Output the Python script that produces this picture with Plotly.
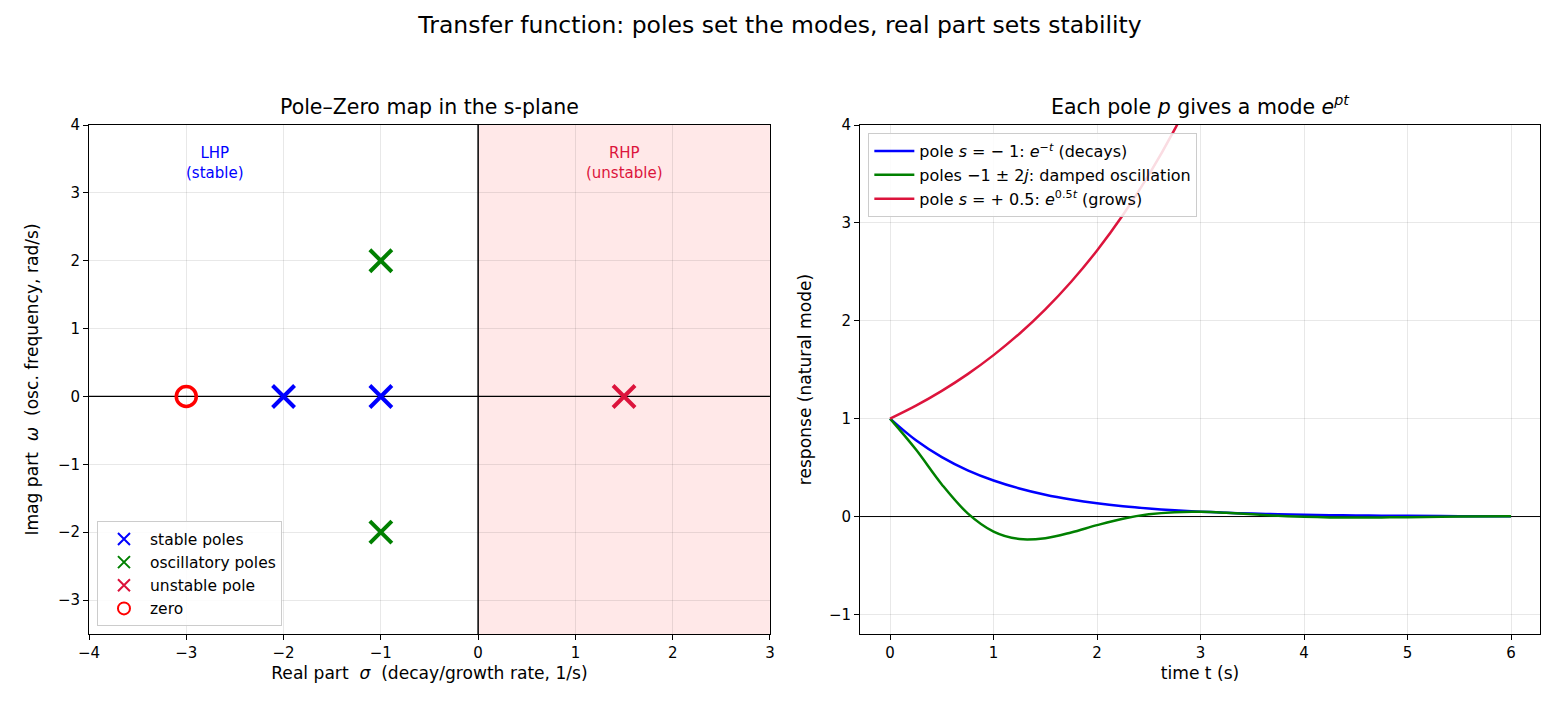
import plotly.graph_objects as go

# ---- data ----
stable_re = [-2, -1]
stable_im = [0, 0]
osc_re = [-1, -1]
osc_im = [2, -2]
unstable_re = [1.5]
unstable_im = [0]
zero_re = [-3]
zero_im = [0]

t_vals = [0, 0.25, 0.5, 0.75, 1, 1.25, 1.5, 1.75, 2, 2.25, 2.5, 2.75, 3,
          3.25, 3.5, 3.75, 4, 4.25, 4.5, 4.75, 5, 5.5, 6]
decay_vals = [1.0, 0.779, 0.607, 0.472, 0.368, 0.287, 0.223, 0.174, 0.135, 0.105,
              0.082, 0.064, 0.050, 0.039, 0.030, 0.024, 0.018, 0.014, 0.011, 0.009,
              0.007, 0.004, 0.002]
osc_vals = [1.0, 0.684, 0.328, 0.033, -0.153, -0.230, -0.221, -0.163, -0.088, -0.022,
            0.023, 0.045, 0.048, 0.038, 0.023, 0.008, -0.003, -0.009, -0.010, -0.009,
            -0.006, 0.000, 0.002]
t_grow = [0, 0.25, 0.5, 0.75, 1, 1.25, 1.5, 1.75, 2, 2.25, 2.5, 2.75, 3]
grow_vals = [1.0, 1.133, 1.284, 1.455, 1.649, 1.868, 2.117, 2.399, 2.718, 3.080,
             3.490, 3.955, 4.482]

FONT = "DejaVu Sans"
NB = "\u00a0"
fig = go.Figure()

# left panel
fig.add_trace(go.Scatter(x=stable_re, y=stable_im, mode="markers", name="stable poles",
                         marker=dict(symbol="x-thin-open", size=22, color="blue",
                                     line=dict(width=4, color="blue")),
                         xaxis="x", yaxis="y", legend="legend"))
fig.add_trace(go.Scatter(x=osc_re, y=osc_im, mode="markers", name="oscillatory poles",
                         marker=dict(symbol="x-thin-open", size=22, color="green",
                                     line=dict(width=4, color="green")),
                         xaxis="x", yaxis="y", legend="legend"))
fig.add_trace(go.Scatter(x=unstable_re, y=unstable_im, mode="markers", name="unstable pole",
                         marker=dict(symbol="x-thin-open", size=22, color="crimson",
                                     line=dict(width=4, color="crimson")),
                         xaxis="x", yaxis="y", legend="legend"))
fig.add_trace(go.Scatter(x=zero_re, y=zero_im, mode="markers", name="zero",
                         marker=dict(symbol="circle-open", size=20, color="red",
                                     line=dict(width=3.5, color="red")),
                         xaxis="x", yaxis="y", legend="legend"))

# right panel
fig.add_trace(go.Scatter(x=t_vals, y=decay_vals, mode="lines", line_shape="spline",
                         name="pole <i>s</i> = − 1: <i>e</i><sup>−<i>t</i></sup> (decays)",
                         line=dict(color="blue", width=2.5),
                         xaxis="x2", yaxis="y2", legend="legend2"))
fig.add_trace(go.Scatter(x=t_vals, y=osc_vals, mode="lines", line_shape="spline",
                         name="poles −1 ± 2<i>j</i>: damped oscillation",
                         line=dict(color="green", width=2.5),
                         xaxis="x2", yaxis="y2", legend="legend2"))
fig.add_trace(go.Scatter(x=t_grow, y=grow_vals, mode="lines", line_shape="spline",
                         name="pole <i>s</i> = + 0.5: <i>e</i><sup>0.5<i>t</i></sup> (grows)",
                         line=dict(color="crimson", width=2.5),
                         xaxis="x2", yaxis="y2", legend="legend2"))

axis_common = dict(showline=True, linecolor="black", linewidth=1, mirror=True,
                   ticks="outside", ticklen=5, tickcolor="black",
                   showgrid=True, gridcolor="rgba(0,0,0,0.09)", gridwidth=1,
                   zeroline=False, tickfont=dict(size=15, color="black"))

fig.update_layout(
    width=1560, height=715,
    paper_bgcolor="white", plot_bgcolor="white",
    font=dict(family=FONT, color="black"),
    margin=dict(l=89, r=20, t=125, b=81),
    showlegend=True,
    title=dict(text="Transfer function: poles set the modes, real part sets stability",
               x=0.5, xanchor="center", y=0.966, yanchor="middle",
               font=dict(size=23.5)),
    xaxis=dict(domain=[0, 0.4693], range=[-4, 3], tickvals=[-4, -3, -2, -1, 0, 1, 2, 3],
               ticktext=["−4", "−3", "−2", "−1", "0", "1", "2", "3"],
               title=dict(text=f"Real part{NB}{NB}<i>σ</i>{NB}{NB}(decay/growth rate, 1/s)",
                          font=dict(size=17.1), standoff=6), **axis_common),
    yaxis=dict(domain=[0, 1], range=[-3.5, 4], tickvals=[-3, -2, -1, 0, 1, 2, 3, 4],
               ticktext=["−3", "−2", "−1", "0", "1", "2", "3", "4"],
               title=dict(text=f"Imag part{NB}{NB}<i>ω</i>{NB}{NB}(osc. frequency, rad/s)",
                          font=dict(size=17.1), standoff=14), **axis_common),
    xaxis2=dict(domain=[0.5314, 1], range=[-0.29, 6.28], tickvals=[0, 1, 2, 3, 4, 5, 6],
                anchor="y2",
                title=dict(text="time t (s)", font=dict(size=17.1), standoff=6), **axis_common),
    yaxis2=dict(domain=[0, 1], range=[-1.2, 4], tickvals=[-1, 0, 1, 2, 3, 4],
                ticktext=["−1", "0", "1", "2", "3", "4"], anchor="x2",
                title=dict(text="response (natural mode)", font=dict(size=17.1), standoff=12),
                **axis_common),
    legend=dict(x=0.0055, y=0.015, xanchor="left", yanchor="bottom",
                bgcolor="rgba(255,255,255,0.85)", bordercolor="#cccccc", borderwidth=1,
                font=dict(size=15.5), itemsizing="constant", tracegroupgap=0,
                itemwidth=42),
    legend2=dict(x=0.5371, y=0.984, xanchor="left", yanchor="top",
                 bgcolor="rgba(255,255,255,0.85)", bordercolor="#cccccc", borderwidth=1,
                 font=dict(size=16), tracegroupgap=0, itemwidth=40),
    shapes=[
        dict(type="rect", xref="x", yref="y", x0=0, x1=3, y0=-3.5, y1=4,
             fillcolor="rgba(255,0,0,0.09)", line=dict(width=0), layer="below"),
        dict(type="line", xref="x", yref="y", x0=0, x1=0, y0=-3.5, y1=4,
             line=dict(color="black", width=1.5)),
        dict(type="line", xref="x", yref="y", x0=-4, x1=3, y0=0, y1=0,
             line=dict(color="black", width=1.2), layer="below"),
        dict(type="line", xref="x2", yref="y2", x0=-0.29, x1=6.28, y0=0, y1=0,
             line=dict(color="black", width=1), layer="below"),
    ],
    annotations=[
        dict(text="Pole–Zero map in the s-plane", xref="x domain", yref="y domain",
             x=0.5, y=1.0, yanchor="bottom", yshift=4, showarrow=False,
             font=dict(size=20.5)),
        dict(text="Each pole <i>p</i> gives a mode <i>e</i><sup><i>pt</i></sup>",
             xref="x2 domain", yref="y2 domain",
             x=0.5, y=1.0, yanchor="bottom", yshift=4, showarrow=False,
             font=dict(size=20.5)),
        dict(text="LHP<br>(stable)", xref="x", yref="y", x=-2.7, y=3.75,
             yanchor="top", showarrow=False, font=dict(size=15, color="blue")),
        dict(text="RHP<br>(unstable)", xref="x", yref="y", x=1.5, y=3.75,
             yanchor="top", showarrow=False, font=dict(size=15, color="crimson")),
    ],
)

fig.write_html("out.html")
